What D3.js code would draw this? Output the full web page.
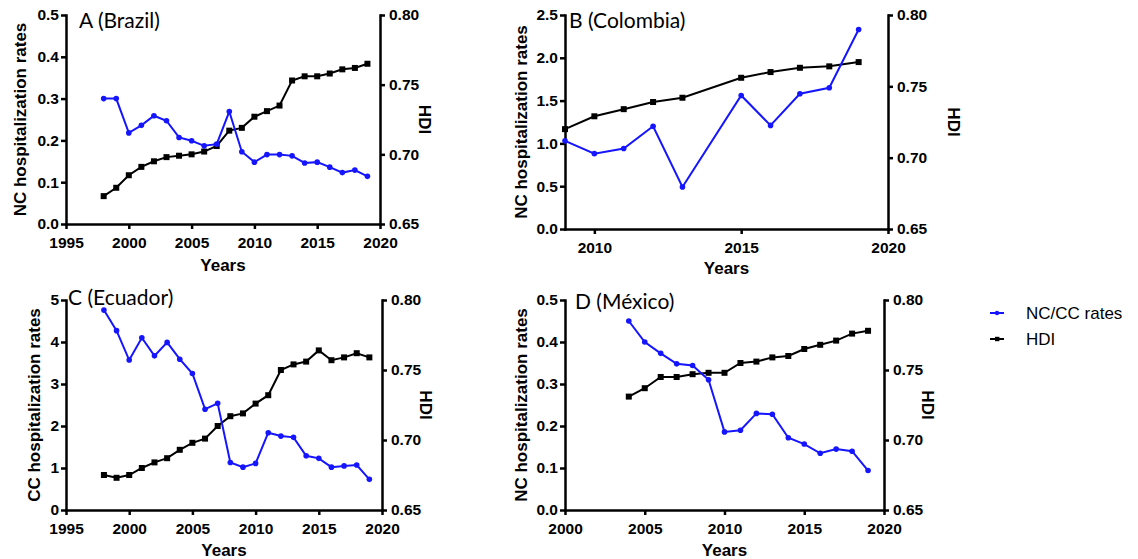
<!DOCTYPE html>
<html>
<head>
<meta charset="utf-8">
<title>NC/CC hospitalization rates and HDI</title>
<script src="https://d3js.org/d3.v7.min.js"></script>
<style>
  body { margin: 0; background: #fff; }
  .tick text { font-family: "Liberation Sans", Arial, sans-serif; font-weight: bold; font-size: 15.5px; fill: #000; }
  .domain, .tick line { stroke: #000; stroke-width: 2.5px; }
  .title { font-family: "Liberation Sans", Arial, sans-serif; font-weight: bold; font-size: 17px; }
  .plabel { font-family: Lato, "Open Sans", sans-serif; font-size: 21px; }
  .legend { font-family: "Liberation Sans", Arial, sans-serif; font-size: 17px; }
</style>
</head>
<body>
<div id="chart"></div>
<script>
var width = 1138, height = 559;

// A (Brazil)
var brazilYears = [1998,1999,2000,2001,2002,2003,2004,2005,2006,2007,2008,2009,2010,2011,2012,2013,2014,2015,2016,2017,2018,2019];
var brazilRates = [0.300,0.300,0.218,0.236,0.259,0.247,0.207,0.199,0.187,0.191,0.269,0.173,0.148,0.166,0.166,0.163,0.146,0.148,0.136,0.123,0.129,0.114];
var brazilHdi   = [0.670,0.676,0.685,0.691,0.695,0.698,0.699,0.700,0.702,0.706,0.717,0.719,0.727,0.731,0.735,0.753,0.756,0.756,0.758,0.761,0.762,0.765];

// B (Colombia)
var colombiaYears = [2009,2010,2011,2012,2013,2015,2016,2017,2018,2019];
var colombiaRates = [1.03,0.88,0.94,1.20,0.49,1.56,1.21,1.58,1.65,2.33];
var colombiaHdi   = [0.720,0.729,0.734,0.739,0.742,0.756,0.760,0.763,0.764,0.767];

// C (Ecuador)
var ecuadorYears = [1998,1999,2000,2001,2002,2003,2004,2005,2006,2007,2008,2009,2010,2011,2012,2013,2014,2015,2016,2017,2018,2019];
var ecuadorRates = [4.76,4.27,3.57,4.10,3.67,3.99,3.59,3.25,2.40,2.54,1.13,1.02,1.11,1.84,1.76,1.73,1.29,1.23,1.02,1.05,1.07,0.73];
var ecuadorHdi   = [0.675,0.673,0.675,0.680,0.684,0.687,0.693,0.698,0.701,0.710,0.717,0.719,0.726,0.732,0.750,0.754,0.756,0.764,0.757,0.759,0.762,0.759];

// D (México)
var mexicoYears = [2004,2005,2006,2007,2008,2009,2010,2011,2012,2013,2014,2015,2016,2017,2018,2019];
var mexicoRates = [0.450,0.400,0.373,0.348,0.344,0.310,0.186,0.190,0.230,0.228,0.172,0.157,0.135,0.145,0.140,0.094];
var mexicoHdi   = [0.731,0.737,0.745,0.745,0.747,0.748,0.748,0.755,0.756,0.759,0.760,0.765,0.768,0.771,0.776,0.778];

var hdiTicks = [0.65, 0.70, 0.75, 0.80];
var legendLabels = ["NC/CC rates", "HDI"];

var blue = "#1515ff";

var svg = d3.select("#chart").append("svg")
    .attr("width", width)
    .attr("height", height);

var panels = [
  {label: "A (Brazil)", years: brazilYears, rates: brazilRates, hdi: brazilHdi,
   x0: 66, x1: 380, top: 15, bot: 224, xDom: [1995, 2020], xTicks: [1995,2000,2005,2010,2015,2020],
   yMax: 0.5, yTicks: [0,0.1,0.2,0.3,0.4,0.5], yFmt: ".1f", yTitle: "NC hospitalization rates",
   yTitleX: 20, hdiX: 425, yearsY: 271, lx: 79, ly: 28},
  {label: "B (Colombia)", years: colombiaYears, rates: colombiaRates, hdi: colombiaHdi,
   x0: 565, x1: 888, top: 15, bot: 229, xDom: [2009, 2020], xTicks: [2010,2015,2020],
   yMax: 2.5, yTicks: [0,0.5,1,1.5,2,2.5], yFmt: ".1f", yTitle: "NC hospitalization rates",
   yTitleX: 521, hdiX: 954, yearsY: 274, lx: 569, ly: 28},
  {label: "C (Ecuador)", years: ecuadorYears, rates: ecuadorRates, hdi: ecuadorHdi,
   x0: 66, x1: 382, top: 300, bot: 510, xDom: [1995, 2020], xTicks: [1995,2000,2005,2010,2015,2020],
   yMax: 5, yTicks: [0,1,2,3,4,5], yFmt: "d", yTitle: "CC hospitalization rates",
   yTitleX: 34, hdiX: 426, yearsY: 556, lx: 68, ly: 305},
  {label: "D (México)", years: mexicoYears, rates: mexicoRates, hdi: mexicoHdi,
   x0: 565, x1: 884, top: 300, bot: 510, xDom: [2000, 2020], xTicks: [2000,2005,2010,2015,2020],
   yMax: 0.5, yTicks: [0,0.1,0.2,0.3,0.4,0.5], yFmt: ".1f", yTitle: "NC hospitalization rates",
   yTitleX: 521, hdiX: 928, yearsY: 556, lx: 575, ly: 309}
];

panels.forEach(function(p) {
  var g = svg.append("g");

  var x = d3.scaleLinear().domain(p.xDom).range([p.x0, p.x1]);
  var yL = d3.scaleLinear().domain([0, p.yMax]).range([p.bot, p.top]);
  var yR = d3.scaleLinear().domain([0.65, 0.80]).range([p.bot, p.top]);

  g.append("g")
      .attr("transform", "translate(0," + p.bot + ")")
      .call(d3.axisBottom(x).tickValues(p.xTicks).tickFormat(d3.format("d"))
            .tickSize(5).tickSizeOuter(0).tickPadding(8));

  g.append("g")
      .attr("transform", "translate(" + p.x0 + ",0)")
      .call(d3.axisLeft(yL).tickValues(p.yTicks).tickFormat(d3.format(p.yFmt))
            .tickSize(5).tickSizeOuter(0).tickPadding(2));

  g.append("g")
      .attr("transform", "translate(" + p.x1 + ",0)")
      .call(d3.axisRight(yR).tickValues(hdiTicks).tickFormat(d3.format(".2f"))
            .tickSize(5).tickSizeOuter(0).tickPadding(4));

  g.selectAll(".domain").attr("stroke-linecap", "square");

  // lines
  var lineR = d3.line().x(function(d, i) { return x(p.years[i]); }).y(function(d) { return yL(d); });
  var lineH = d3.line().x(function(d, i) { return x(p.years[i]); }).y(function(d) { return yR(d); });

  g.append("path").datum(p.hdi)
      .attr("fill", "none").attr("stroke", "#000").attr("stroke-width", 2)
      .attr("d", lineH);
  g.selectAll(".hdiPt").data(p.hdi).enter().append("rect")
      .attr("x", function(d, i) { return x(p.years[i]) - 3; })
      .attr("y", function(d) { return yR(d) - 3; })
      .attr("width", 6).attr("height", 6).attr("fill", "#000");

  g.append("path").datum(p.rates)
      .attr("fill", "none").attr("stroke", blue).attr("stroke-width", 2)
      .attr("d", lineR);
  g.selectAll(".ratePt").data(p.rates).enter().append("circle")
      .attr("cx", function(d, i) { return x(p.years[i]); })
      .attr("cy", function(d) { return yL(d); })
      .attr("r", 2.8).attr("fill", blue);

  // titles
  var mid = (p.top + p.bot) / 2;
  g.append("text").attr("class", "title")
      .attr("transform", "translate(" + p.yTitleX + "," + mid + ") rotate(-90)")
      .attr("text-anchor", "middle").attr("dy", "0.35em")
      .text(p.yTitle);
  g.append("text").attr("class", "title")
      .attr("transform", "translate(" + p.hdiX + "," + mid + ") rotate(90)")
      .attr("text-anchor", "middle").attr("dy", "0.35em")
      .text("HDI");
  g.append("text").attr("class", "title")
      .attr("x", (p.x0 + p.x1) / 2).attr("y", p.yearsY)
      .attr("text-anchor", "middle")
      .text("Years");
  g.append("text").attr("class", "plabel")
      .attr("x", p.lx).attr("y", p.ly)
      .text(p.label);
});

// legend
var legend = svg.append("g");
legendLabels.forEach(function(name, i) {
  var ly = 313 + i * 26;
  var col = i == 0 ? blue : "#000";
  legend.append("line").attr("x1", 990).attr("x2", 1004).attr("y1", ly).attr("y2", ly)
      .attr("stroke", col).attr("stroke-width", 2);
  if (i == 0) {
    legend.append("circle").attr("cx", 997).attr("cy", ly).attr("r", 2.2).attr("fill", col);
  } else {
    legend.append("rect").attr("x", 995).attr("y", ly - 2.2).attr("width", 4.4).attr("height", 4.4).attr("fill", col);
  }
  legend.append("text").attr("class", "legend")
      .attr("x", 1026).attr("y", ly).attr("dy", "0.35em")
      .text(name);
});
</script>
</body>
</html>
